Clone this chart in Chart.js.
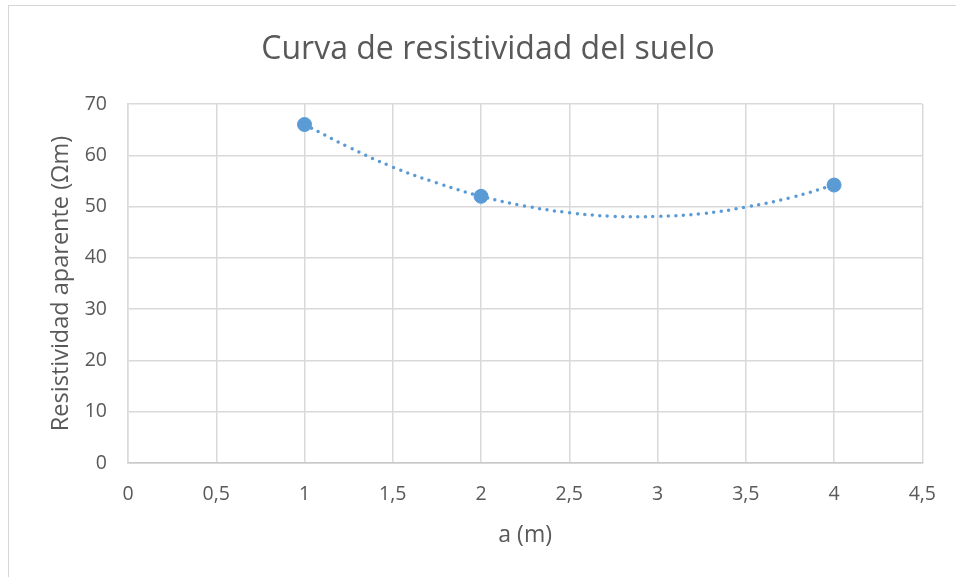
<!DOCTYPE html>
<html>
<head>
<meta charset="utf-8">
<script src="https://cdn.jsdelivr.net/npm/chart.js@4/dist/chart.umd.min.js"></script>
<style>
  html, body { margin: 0; padding: 0; background: #fff; overflow: hidden; }
  #frame { position: absolute; left: 8px; top: 5px; width: 1100px; height: 700px; border: 1px solid #d6d6d6; box-sizing: border-box; }
  #c { position: absolute; left: 0; top: 0; }
</style>
</head>
<body>
<div id="frame"></div>
<canvas id="c" width="956" height="577"></canvas>
<script>
// Measured spacing a (m) and apparent resistivity (Ωm)
const spacing = [1, 2, 4];
const resistivity = [66, 52, 54.2];

const trendX = [1, 1.25, 1.5, 1.75, 2, 2.25, 2.5, 2.75, 3, 3.25, 3.5, 3.75, 4];
const trendY = [66.0, 61.6, 57.7, 54.6, 52.0, 50.1, 48.8, 48.1, 48.1, 48.6, 49.9, 51.7, 54.2];

const chartTitle = 'Curva de resistividad del suelo';
const xTitle = 'a (m)';
const yTitle = 'Resistividad aparente (Ωm)';

const BLUE = '#5b9bd5';
const TEXT = '#595959';
const GRID = '#d9d9d9';
const FONT = "'Open Sans', 'Segoe UI', sans-serif";

const toPoints = (xs, ys) => xs.map((x, i) => ({ x, y: ys[i] }));

// Chart title drawn centred over the chart frame
const titlePlugin = {
  id: 'frameTitle',
  afterDraw(chart) {
    const ctx = chart.ctx;
    ctx.save();
    ctx.fillStyle = TEXT;
    ctx.font = `32px ${FONT}`;
    ctx.textAlign = 'center';
    ctx.textBaseline = 'middle';
    ctx.fillText(chartTitle, 488, 50);
    ctx.restore();
  }
};

new Chart(document.getElementById('c'), {
  type: 'scatter',
  data: {
    datasets: [
      {
        label: 'Medidas',
        data: toPoints(spacing, resistivity),
        backgroundColor: BLUE,
        borderColor: BLUE,
        pointRadius: 7,
        pointHoverRadius: 7,
        order: 0
      },
      {
        label: 'Tendencia',
        data: toPoints(trendX, trendY),
        showLine: true,
        borderColor: BLUE,
        borderWidth: 3.5,
        borderDash: [0, 7.6],
        borderCapStyle: 'round',
        tension: 0.4,
        pointRadius: 0,
        pointHoverRadius: 0,
        fill: false,
        order: 1
      }
    ]
  },
  options: {
    responsive: false,
    animation: false,
    events: [],
    layout: { padding: { left: 0, right: 32, top: 104, bottom: 0 } },
    plugins: {
      legend: { display: false },
      title: { display: false },
      tooltip: { enabled: false }
    },
    scales: {
      x: {
        type: 'linear',
        min: 0,
        max: 4.5,
        ticks: {
          stepSize: 0.5,
          color: TEXT,
          font: { family: FONT, size: 19.5 },
          padding: 20,
          callback: v => String(v).replace('.', ',')
        },
        grid: { color: GRID, lineWidth: 1.5, drawTicks: false },
        border: { color: '#c8c8c8', width: 1.5 },
        title: {
          display: true,
          text: xTitle,
          color: TEXT,
          font: { family: FONT, size: 23 },
          padding: { top: 0, bottom: 28 }
        },
        afterFit(scale) { scale.height = 114; }
      },
      y: {
        type: 'linear',
        min: 0,
        max: 70,
        ticks: {
          stepSize: 10,
          color: TEXT,
          font: { family: FONT, size: 19.5 },
          padding: 21
        },
        grid: { color: GRID, lineWidth: 1.5, drawTicks: false },
        border: { color: GRID, width: 1.5 },
        title: {
          display: true,
          text: yTitle,
          color: TEXT,
          font: { family: FONT, size: 23.5 },
          padding: { top: 47, bottom: 0 }
        },
        afterFit(scale) { scale.width = 128; }
      }
    }
  },
  plugins: [titlePlugin]
});
</script>
</body>
</html>
